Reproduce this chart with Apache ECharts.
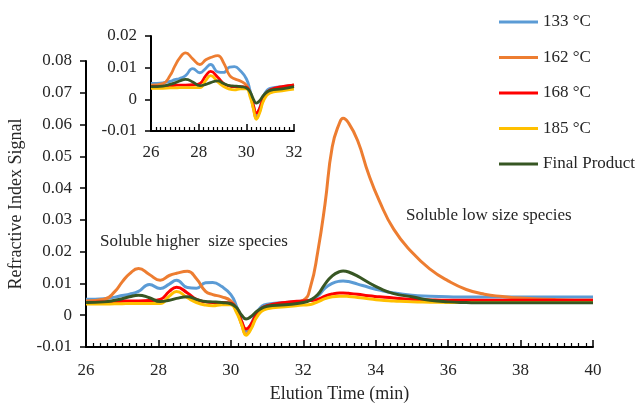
<!DOCTYPE html>
<html>
<head>
<meta charset="utf-8">
<script src="https://cdn.jsdelivr.net/npm/echarts@6/dist/echarts.min.js"></script>
<style>
html,body{margin:0;padding:0;background:#fff;}
#chart{width:636px;height:403px;}
</style>
</head>
<body>
<div id="chart"></div>
<script>
// Elution time (min)
var times = [26, 26.5, 26.8, 27.0, 27.2, 27.45, 27.75, 28.05, 28.3, 28.5, 28.8, 29.05, 29.3, 29.5, 29.75, 30.0, 30.15, 30.3, 30.42, 30.55, 30.75, 31.0, 31.5, 32.0, 32.2, 32.4, 32.6, 32.8, 33.0, 33.1, 33.25, 33.5, 33.8, 34.1, 34.5, 35.0, 35.5, 36.0, 36.5, 37.0, 37.5, 38.0, 39.0, 40.0];

var names = ['133 \u00B0C', '162 \u00B0C', '168 \u00B0C', '185 \u00B0C', 'Final Product'];

var s133 = [0.005, 0.0052, 0.0057, 0.0062, 0.0066, 0.0075, 0.0097, 0.0084, 0.0098, 0.011, 0.0087, 0.0085, 0.0102, 0.0103, 0.009, 0.0065, 0.003, -0.002, -0.005, -0.003, 0.0015, 0.0035, 0.004, 0.0045, 0.0048, 0.006, 0.0085, 0.0100, 0.0107, 0.0108, 0.0106, 0.0098, 0.0088, 0.0079, 0.007, 0.0063, 0.006, 0.0058, 0.0057, 0.0057, 0.0057, 0.0057, 0.0057, 0.0057];

var s162 = [0.0045, 0.005, 0.0075, 0.0105, 0.013, 0.0147, 0.0128, 0.011, 0.0125, 0.0132, 0.0138, 0.0115, 0.0075, 0.0065, 0.0058, 0.0045, 0.002, -0.003, -0.006, -0.004, 0.0005, 0.0025, 0.0035, 0.0047, 0.009, 0.020, 0.035, 0.053, 0.0605, 0.0620, 0.0605, 0.055, 0.0445, 0.036, 0.027, 0.0198, 0.0145, 0.0108, 0.0081, 0.0066, 0.0059, 0.0054, 0.0049, 0.0047];

var s168 = [0.004, 0.0042, 0.0043, 0.0044, 0.0045, 0.0045, 0.0046, 0.005, 0.0075, 0.0088, 0.007, 0.005, 0.0042, 0.004, 0.004, 0.0038, 0.002, -0.002, -0.0043, -0.003, 0.001, 0.003, 0.004, 0.0045, 0.0046, 0.005, 0.006, 0.0067, 0.007, 0.007, 0.0069, 0.0066, 0.0061, 0.0058, 0.0054, 0.005, 0.0048, 0.0047, 0.0047, 0.0047, 0.0047, 0.0047, 0.0047, 0.0047];

var s185 = [0.0035, 0.0035, 0.0036, 0.0036, 0.0037, 0.0037, 0.0037, 0.0037, 0.006, 0.0075, 0.0055, 0.004, 0.0032, 0.003, 0.0033, 0.0033, 0.001, -0.003, -0.0063, -0.0045, 0.0, 0.002, 0.0027, 0.0032, 0.0034, 0.0042, 0.0052, 0.0058, 0.006, 0.006, 0.0059, 0.0056, 0.0052, 0.0048, 0.0045, 0.0042, 0.0041, 0.004, 0.004, 0.004, 0.004, 0.004, 0.004, 0.004];

var sFinal = [0.004, 0.0042, 0.0047, 0.0052, 0.0058, 0.0063, 0.0055, 0.0043, 0.0047, 0.0053, 0.0058, 0.005, 0.0043, 0.0042, 0.004, 0.0036, 0.0025, 0.0, -0.0012, -0.0005, 0.0015, 0.0028, 0.0033, 0.004, 0.0048, 0.0065, 0.0098, 0.0124, 0.0137, 0.0139, 0.0136, 0.0123, 0.0103, 0.0085, 0.0068, 0.0058, 0.0047, 0.0042, 0.004, 0.0039, 0.0039, 0.0039, 0.0039, 0.0039];

var xTicksMain = [26, 40, 2];
var yTicksMain = [-0.01, 0.08, 0.01];
var xTicksInset = [26, 32, 2];
var yTicksInset = [-0.01, 0.02, 0.01];

var colors = ['#5B9BD5', '#ED7D31', '#FF0000', '#FFC000', '#375623'];
var allSeries = [s133, s162, s168, s185, sFinal];

var FONT = 'Liberation Serif';
var TXT = '#262626';

function pairs(vals, maxT) {
  var out = [];
  for (var i = 0; i < times.length; i++) {
    if (times[i] <= maxT + 1e-9) out.push([times[i], vals[i]]);
  }
  return out;
}
function fmtY(v) {
  var r = Math.round(v * 100) / 100;
  if (r === 0) return '0';
  return r.toFixed(2);
}

var series = [];
allSeries.forEach(function (vals, i) {
  series.push({
    name: names[i], type: 'line', xAxisIndex: 0, yAxisIndex: 0,
    data: pairs(vals, 40), smooth: 0.5, showSymbol: false, symbol: 'none',
    lineStyle: { color: colors[i], width: 3 }, itemStyle: { color: colors[i] }, z: 2 + i
  });
});
allSeries.forEach(function (vals, i) {
  series.push({
    name: names[i], type: 'line', xAxisIndex: 1, yAxisIndex: 1,
    data: pairs(vals, 32), smooth: 0.5, showSymbol: false, symbol: 'none',
    lineStyle: { color: colors[i], width: 2.8 }, itemStyle: { color: colors[i] }, z: 2 + i
  });
});

function xAxisCfg(gi, t, fs, name, margin) {
  return {
    type: 'value', gridIndex: gi, min: t[0], max: t[1], interval: t[2],
    name: name, nameLocation: 'middle', nameGap: 38,
    nameTextStyle: { fontFamily: FONT, fontSize: 18, color: TXT },
    axisLine: { show: true, onZero: false, lineStyle: { color: '#000', width: 2 } },
    axisTick: { show: true, inside: true, length: 7, lineStyle: { color: '#000', width: 1.5 } },
    minorTick: { show: true, splitNumber: 10, length: 4, lineStyle: { color: '#000', width: 1.2 } },
    axisLabel: { fontFamily: FONT, fontSize: fs, color: TXT, margin: margin },
    splitLine: { show: false }, minorSplitLine: { show: false }
  };
}
function yAxisCfg(gi, t, fs, name) {
  return {
    type: 'value', gridIndex: gi, min: t[0], max: t[1], interval: t[2],
    name: name, nameLocation: 'middle', nameGap: 47,
    nameTextStyle: { fontFamily: FONT, fontSize: 18, color: TXT },
    axisLine: { show: true, onZero: false, lineStyle: { color: '#000', width: 2 } },
    axisTick: { show: true, inside: false, length: 6, lineStyle: { color: '#000', width: 1.5 } },
    axisLabel: { fontFamily: FONT, fontSize: fs, color: TXT, margin: 14, formatter: fmtY },
    splitLine: { show: false }
  };
}

var chart = echarts.init(document.getElementById('chart'), null, { renderer: 'canvas' });
chart.setOption({
  animation: false,
  backgroundColor: '#fff',
  grid: [
    { left: 86, top: 61, width: 507, height: 286, containLabel: false, outerBoundsMode: 'none' },
    { left: 151, top: 36, width: 143, height: 95, containLabel: false, outerBoundsMode: 'none' }
  ],
  xAxis: [
    xAxisCfg(0, xTicksMain, 17, 'Elution Time (min)', 15),
    xAxisCfg(1, xTicksInset, 17, '', 13)
  ],
  yAxis: [
    yAxisCfg(0, yTicksMain, 17, 'Refractive Index Signal'),
    yAxisCfg(1, yTicksInset, 17, '')
  ],
  legend: {
    data: names, orient: 'vertical', left: 499, top: 13, padding: 0,
    icon: 'rect', itemWidth: 39, itemHeight: 3, itemGap: 17.5,
    textStyle: { fontFamily: FONT, fontSize: 17, color: TXT, lineHeight: 18 }
  },
  graphic: [
    { type: 'text', left: 100, top: 233, style: { text: 'Soluble higher  size species', font: '17px "Liberation Serif"', fill: TXT } },
    { type: 'text', left: 406, top: 207, style: { text: 'Soluble low size species', font: '17px "Liberation Serif"', fill: TXT } }
  ],
  series: series
});
</script>
</body>
</html>
